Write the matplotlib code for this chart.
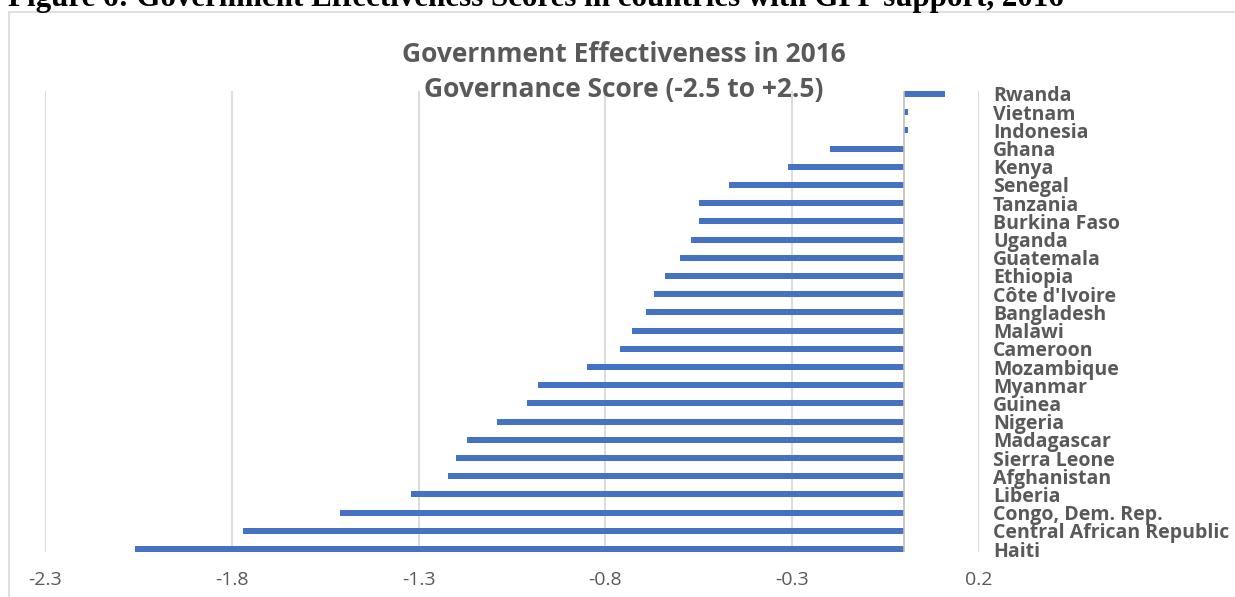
import matplotlib
matplotlib.use("Agg")
import matplotlib.pyplot as plt
from matplotlib.patches import Rectangle

# countries top to bottom, governance score 2016
countries = ["Rwanda", "Vietnam", "Indonesia", "Ghana", "Kenya", "Senegal",
             "Tanzania", "Burkina Faso", "Uganda", "Guatemala", "Ethiopia",
             "Côte d'Ivoire", "Bangladesh", "Malawi", "Cameroon", "Mozambique",
             "Myanmar", "Guinea", "Nigeria", "Madagascar", "Sierra Leone",
             "Afghanistan", "Liberia", "Congo, Dem. Rep.",
             "Central African Republic", "Haiti"]
scores = [0.11, 0.01, 0.01, -0.20, -0.31, -0.47,
          -0.55, -0.55, -0.57, -0.60, -0.64,
          -0.67, -0.69, -0.73, -0.76, -0.85,
          -0.98, -1.01, -1.09, -1.17, -1.20,
          -1.22, -1.32, -1.51,
          -1.77, -2.06]
xticks = [-2.3, -1.8, -1.3, -0.8, -0.3, 0.2]

W, H = 1235, 597
gray_txt = "#595959"
sans = ["Open Sans", "DejaVu Sans"]

fig = plt.figure(figsize=(W / 100, H / 100), dpi=100)

# chart border (runs off the right and bottom of the image)
fig.patches.append(Rectangle((9 / W, -0.1), 1.2, 1 - 12 / H + 0.1,
                             transform=fig.transFigure, fill=False,
                             edgecolor="#D9D9D9", linewidth=1.2))

# header from the document, cut off at the top
fig.text(8 / W, 1 - 6 / H,
         "Figure 6: Government Effectiveness Scores in countries with GFF support, 2016",
         family="Liberation Serif", weight="bold", fontsize=22.3,
         va="baseline", ha="left", color="black")

ax = fig.add_axes([45 / W, (H - 552) / H, (979 - 45) / W, (552 - 91) / H])
ypos = list(range(len(countries)))
ax.barh(ypos, scores, height=0.33, color="#4472C4", zorder=3)
ax.set_ylim(len(countries) - 1 + 0.16, -0.16)
ax.set_xlim(-2.3, 0.2)

ax.set_xticks(xticks)
ax.set_xticklabels([f"{t:.1f}" for t in xticks], family=sans,
                   fontsize=14, color=gray_txt)
ax.grid(axis="x", color="#D9D9D9", linewidth=1.3, zorder=0)
ax.axvline(0, color="#BFBFBF", linewidth=1.2, zorder=4)

ax.yaxis.tick_right()
ax.set_yticks(ypos)
ax.set_yticklabels(countries, family=sans, fontsize=14, weight="bold",
                   color=gray_txt)
ax.tick_params(axis="y", length=0, pad=10)
ax.tick_params(axis="x", length=0, pad=14)
for s in ax.spines.values():
    s.set_visible(False)

fig.text(624 / W, 1 - 55 / H, "Government Effectiveness in 2016",
         family=sans, weight="bold", fontsize=19, color=gray_txt,
         ha="center", va="center")
fig.text(624 / W, 1 - 90 / H, "Governance Score (-2.5 to +2.5)",
         family=sans, weight="bold", fontsize=19, color=gray_txt,
         ha="center", va="center")

fig.savefig("out.png", dpi=100)
